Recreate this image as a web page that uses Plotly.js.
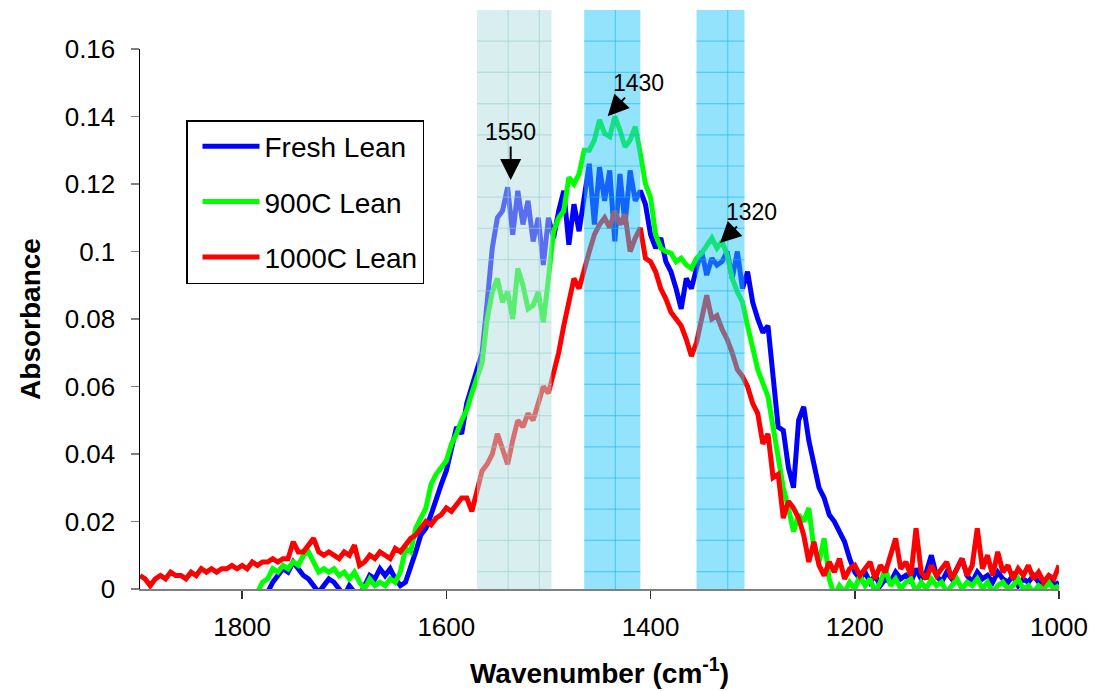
<!DOCTYPE html>
<html>
<head>
<meta charset="utf-8">
<script src="https://cdn.plot.ly/plotly-3.0.1.min.js"></script>
<style>html,body{margin:0;padding:0;background:#fff;}#chart{width:1106px;height:691px;}</style>
</head>
<body>
<div id="chart"></div>
<script>
// Wavenumber grid (cm-1) at 5 cm-1 spacing
const wavenumber = [
  1900,1895,1890,1885,1880,1875,1870,1865,1860,1855,
  1850,1845,1840,1835,1830,1825,1820,1815,1810,1805,
  1800,1795,1790,1785,1780,1775,1770,1765,1760,1755,
  1750,1745,1740,1735,1730,1725,1720,1715,1710,1705,
  1700,1695,1690,1685,1680,1675,1670,1665,1660,1655,
  1650,1645,1640,1635,1630,1625,1620,1615,1610,1605,
  1600,1595,1590,1585,1580,1575,1570,1565,1560,1555,
  1550,1545,1540,1535,1530,1525,1520,1515,1510,1505,
  1500,1495,1490,1485,1480,1475,1470,1465,1460,1455,
  1450,1445,1440,1435,1430,1425,1420,1415,1410,1405,
  1400,1395,1390,1385,1380,1375,1370,1365,1360,1355,
  1350,1345,1340,1335,1330,1325,1320,1315,1310,1305,
  1300,1295,1290,1285,1280,1275,1270,1265,1260,1255,
  1250,1245,1240,1235,1230,1225,1220,1215,1210,1205,
  1200,1195,1190,1185,1180,1175,1170,1165,1160,1155,
  1150,1145,1140,1135,1130,1125,1120,1115,1110,1105,
  1100,1095,1090,1085,1080,1075,1070,1065,1060,1055,
  1050,1045,1040,1035,1030,1025,1020,1015,1010,1005,
  1000
];

const freshLean = [
  -0.010,-0.010,-0.010,-0.010,-0.010,-0.010,-0.010,-0.010,-0.010,-0.010,
  -0.010,-0.010,-0.010,-0.010,-0.010,-0.010,-0.010,-0.010,-0.010,-0.010,
  -0.008,-0.007,-0.006,-0.004,-0.003,-0.001,0.002,0.004,0.006,0.005,
  0.008,0.006,0.004,0.003,0.001,-0.001,0.001,0.003,0.002,0.000,
  -0.002,0.001,-0.001,-0.002,0.001,0.004,0.003,0.006,0.004,0.006,
  0.003,0.001,0.002,0.006,0.011,0.016,0.018,0.022,0.027,0.031,
  0.035,0.041,0.048,0.046,0.055,0.060,0.065,0.070,0.085,0.101,
  0.110,0.112,0.119,0.105,0.118,0.108,0.115,0.103,0.110,0.096,
  0.110,0.104,0.112,0.118,0.102,0.114,0.106,0.116,0.126,0.108,
  0.125,0.115,0.124,0.103,0.123,0.108,0.124,0.115,0.118,0.114,
  0.105,0.101,0.104,0.097,0.094,0.089,0.083,0.092,0.089,0.095,
  0.100,0.093,0.098,0.096,0.097,0.100,0.092,0.100,0.089,0.094,
  0.085,0.080,0.076,0.078,0.062,0.048,0.047,0.036,0.030,0.050,
  0.054,0.044,0.037,0.030,0.027,0.022,0.020,0.017,0.014,0.009,
  0.005,0.003,0.005,0.002,0.004,0.001,0.003,0.002,0.005,0.003,
  0.004,0.002,0.006,0.003,0.005,0.010,0.004,0.002,0.005,0.003,
  0.006,0.009,0.004,0.002,0.005,0.003,0.004,0.002,0.005,0.003,
  0.002,0.004,0.001,0.003,0.002,0.004,0.002,0.001,0.003,0.001,
  0.002
];

const lean900C = [
  -0.010,-0.010,-0.010,-0.010,-0.010,-0.010,-0.010,-0.010,-0.010,-0.010,
  -0.010,-0.010,-0.010,-0.010,-0.010,-0.010,-0.010,-0.010,-0.010,-0.010,
  -0.009,-0.006,-0.003,-0.001,0.002,0.003,0.006,0.005,0.007,0.006,
  0.008,0.007,0.010,0.011,0.008,0.005,0.006,0.005,0.006,0.004,
  0.005,0.003,0.005,0.002,0.000,0.003,0.001,0.002,0.001,0.003,
  0.002,0.005,0.012,0.011,0.018,0.021,0.024,0.031,0.034,0.036,
  0.038,0.043,0.046,0.050,0.053,0.058,0.062,0.067,0.080,0.088,
  0.092,0.085,0.088,0.080,0.095,0.090,0.083,0.084,0.088,0.079,
  0.092,0.106,0.110,0.112,0.122,0.120,0.123,0.130,0.130,0.133,
  0.139,0.135,0.134,0.140,0.136,0.131,0.133,0.137,0.129,0.120,
  0.116,0.105,0.101,0.100,0.0995,0.097,0.098,0.096,0.095,0.098,
  0.0995,0.102,0.104,0.101,0.103,0.099,0.092,0.088,0.085,0.078,
  0.072,0.065,0.061,0.057,0.048,0.038,0.030,0.024,0.017,0.022,
  0.020,0.024,0.012,0.008,0.015,0.003,-0.002,0.001,-0.001,0.002,
  0.000,0.004,0.001,0.003,-0.001,0.002,0.006,0.001,0.003,0.000,
  0.002,0.003,-0.001,0.002,0.000,0.003,0.001,0.002,-0.001,0.001,
  0.003,0.000,0.002,0.001,0.003,0.000,0.002,-0.001,0.001,0.002,
  0.000,0.001,0.003,0.000,0.001,-0.001,0.001,0.000,0.002,0.000,
  0.001
];

const lean1000C = [
  0.004,0.003,0.001,0.003,0.004,0.003,0.005,0.004,0.004,0.003,
  0.005,0.004,0.006,0.005,0.006,0.005,0.006,0.006,0.007,0.006,
  0.007,0.006,0.008,0.007,0.008,0.008,0.009,0.008,0.009,0.009,
  0.014,0.011,0.011,0.013,0.015,0.011,0.010,0.011,0.010,0.009,
  0.011,0.010,0.013,0.007,0.008,0.010,0.009,0.011,0.010,0.009,
  0.012,0.011,0.013,0.015,0.016,0.018,0.020,0.019,0.021,0.022,
  0.024,0.023,0.025,0.027,0.027,0.023,0.029,0.035,0.037,0.040,
  0.046,0.041,0.037,0.044,0.050,0.048,0.052,0.050,0.055,0.060,
  0.058,0.064,0.070,0.078,0.086,0.092,0.089,0.095,0.100,0.105,
  0.108,0.110,0.107,0.112,0.108,0.111,0.100,0.104,0.107,0.098,
  0.097,0.094,0.089,0.086,0.082,0.080,0.078,0.074,0.069,0.073,
  0.080,0.087,0.080,0.081,0.077,0.074,0.070,0.065,0.063,0.060,
  0.055,0.052,0.043,0.046,0.033,0.034,0.021,0.026,0.024,0.021,
  0.016,0.008,0.014,0.007,0.004,0.008,0.005,0.009,0.003,0.006,
  0.007,0.004,0.006,0.008,0.003,0.007,0.005,0.010,0.015,0.006,
  0.008,0.004,0.018,0.005,0.003,0.007,0.004,0.006,0.008,0.003,
  0.006,0.009,0.004,0.007,0.018,0.006,0.010,0.004,0.011,0.005,
  0.007,0.003,0.006,0.004,0.007,0.003,0.005,0.002,0.004,0.003,
  0.007
];

const seriesNames = ['Fresh Lean', '900C Lean', '1000C Lean'];

// Highlighted bands (cm-1)
const bandStart = [1570, 1465, 1355];
const bandEnd   = [1497, 1410, 1308];

// Peak labels
const peakLabels = ['1550', '1430', '1320'];
const peakX = [1537, 1442, 1332];
const peakY = [0.1212, 0.1401, 0.1025];

// ---------- styles ----------
const lineColors = ['#0000ff', '#00ff00', '#ff0000'];
const bandFill = ['rgb(178,222,224)', 'rgb(40,200,250)', 'rgb(40,200,250)'];
const bandGrid = ['rgb(150,205,212)', 'rgb(20,180,235)', 'rgb(20,180,235)'];
const labelOffsets = [[0, -48], [31, -33], [32, -31]];

const traces = [freshLean, lean900C, lean1000C].map((vals, i) => ({
  type: 'scatter', mode: 'lines',
  x: wavenumber, y: vals, name: seriesNames[i],
  legendgroup: 'g' + i,
  line: {color: lineColors[i], width: 5},
  hoverinfo: 'skip'
}));

const plotW = 1106 - 140 - 47, plotH = 691 - 49 - 102;
const xRange = [1900, 1000];
const pxPerUnitX = plotW / (xRange[0] - xRange[1]);
const bandTop = 1 + 39 / plotH;
const gridPx = 31.2;

const shapes = [];
bandStart.forEach((s, i) => {
  const e = bandEnd[i];
  shapes.push({type: 'rect', xref: 'x', yref: 'paper', x0: s, x1: e, y0: 0, y1: bandTop,
    fillcolor: bandFill[i], opacity: 0.5, line: {width: 0}, layer: 'above'});
  for (let k = 1; ; k++) {
    const xv = s - k * gridPx / pxPerUnitX;
    if (xv <= e + 1) break;
    shapes.push({type: 'line', xref: 'x', yref: 'paper', x0: xv, x1: xv, y0: 0, y1: bandTop,
      line: {color: bandGrid[i], width: 1.2}, opacity: 0.5, layer: 'above'});
  }
  for (let k = 1; ; k++) {
    const yv = bandTop - k * gridPx / plotH;
    if (yv <= 0.005) break;
    shapes.push({type: 'line', xref: 'x', yref: 'paper', x0: s, x1: e, y0: yv, y1: yv,
      line: {color: bandGrid[i], width: 1.2}, opacity: 0.5, layer: 'above'});
  }
});

const annotations = peakLabels.map((t, i) => ({
  x: peakX[i], y: peakY[i], xref: 'x', yref: 'y',
  text: t, showarrow: true,
  ax: labelOffsets[i][0], ay: labelOffsets[i][1],
  arrowhead: 2, arrowsize: 2.1, arrowwidth: 2, arrowcolor: '#000',
  font: {size: 23, color: '#000'}
}));

const layout = {
  width: 1106, height: 691,
  margin: {l: 140, r: 47, t: 49, b: 102},
  paper_bgcolor: '#fff', plot_bgcolor: '#fff',
  font: {family: 'Arial, "Liberation Sans", sans-serif', color: '#000'},
  showlegend: true,
  xaxis: {
    range: xRange, tick0: 1000, dtick: 200,
    ticks: 'outside', ticklen: 8, tickwidth: 1.5, tickcolor: '#333',
    showline: true, linecolor: '#808080', linewidth: 2,
    showgrid: false, zeroline: false,
    tickfont: {size: 26, color: '#000'},
    ticklabelstandoff: 6,
    title: {text: 'Wavenumber (cm<sup>-1</sup>)', font: {size: 28, weight: 'bold'}, standoff: 22}
  },
  yaxis: {
    range: [0, 0.16], dtick: 0.02,
    ticks: 'outside', ticklen: 8, tickwidth: 1.5, tickcolor: '#808080',
    showline: true, linecolor: '#000', linewidth: 1.5,
    showgrid: false, zeroline: false,
    tickfont: {size: 26, color: '#000'},
    ticklabelstandoff: 10,
    title: {text: 'Absorbance', font: {size: 28, weight: 'bold'}, standoff: 16}
  },
  legend: {
    x: 46 / plotW, y: (589 - 120) / plotH, xanchor: 'left', yanchor: 'top',
    bordercolor: '#000', borderwidth: 1.5, bgcolor: '#fff',
    font: {size: 28, color: '#000'},
    tracegroupgap: 16, itemwidth: 57, indentation: 10
  },
  shapes: shapes,
  annotations: annotations
};

Plotly.newPlot('chart', traces, layout, {displayModeBar: false, staticPlot: true});
</script>
</body>
</html>
